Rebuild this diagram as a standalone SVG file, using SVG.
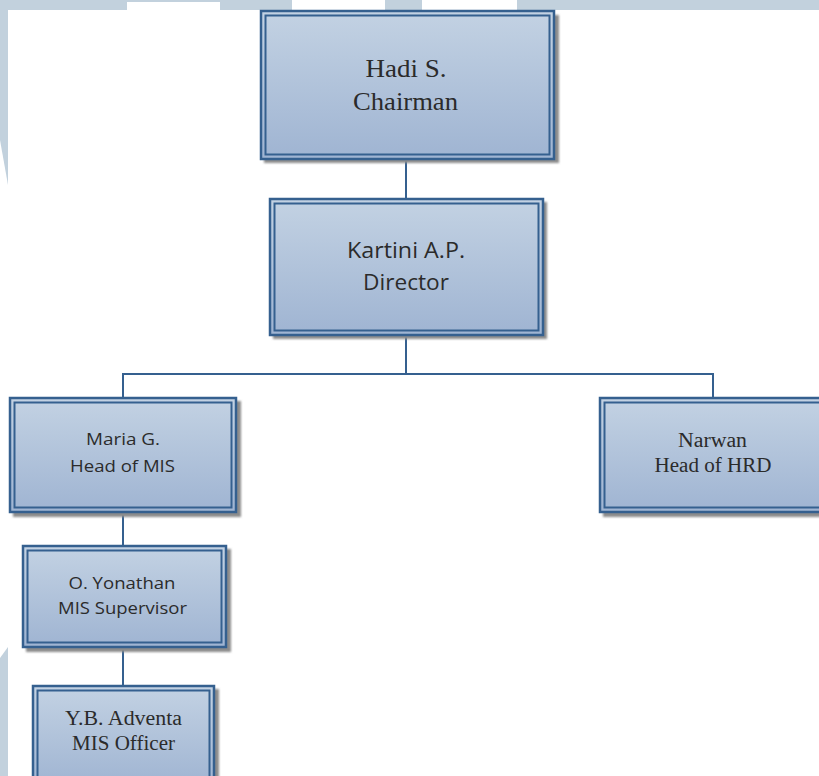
<svg xmlns="http://www.w3.org/2000/svg" width="819" height="776" viewBox="0 0 819 776">
<style>
.bg{fill:#c2d1dd}
.outer{stroke:#35608f;stroke-width:2.5;fill:url(#g)}
.inner{stroke:#35608f;stroke-width:2;fill:none}
.shadow{fill:#8c8c8c;filter:url(#blur)}
.conn{stroke:#35608f;stroke-width:2;fill:none}
.serif{font-family:"Liberation Serif","Times New Roman",serif;fill:#2b2b2b;text-anchor:middle}
.sans{font-family:"Open Sans","Liberation Sans",sans-serif;fill:#2b2b2b;text-anchor:middle}
</style>
<defs>
<linearGradient id="g" x1="0" y1="0" x2="0" y2="1">
<stop offset="0" stop-color="#c3d2e3"/>
<stop offset="1" stop-color="#9fb4d2"/>
</linearGradient>
<filter id="blur" x="-10%" y="-10%" width="120%" height="120%"><feGaussianBlur stdDeviation="1"/></filter>
</defs>
<rect width="819" height="776" fill="#ffffff"/>
<g id="background">
<rect class="bg" x="0" y="0" width="819" height="10"/>
<rect x="127" y="2" width="93" height="8" fill="#ffffff"/>
<rect x="292" y="0" width="93" height="10" fill="#ffffff"/>
<rect x="422" y="0" width="95" height="10" fill="#ffffff"/>
<polygon class="bg" points="0,0 8,0 8,185 0,140"/>
<polygon class="bg" points="0,658 8,647 8,776 0,776"/>
</g>
<g id="connectors">
<line class="conn" x1="406" y1="160" x2="406" y2="198"/>
<polyline class="conn" points="406,336 406,374"/>
<polyline class="conn" points="123,397 123,374 713,374 713,397"/>
<line class="conn" x1="123" y1="513" x2="123" y2="545"/>
<line class="conn" x1="123" y1="648" x2="123" y2="685"/>
</g>
<g id="chairman">
<rect class="shadow" x="264" y="15" width="295" height="148"/>
<rect class="outer" x="261" y="11" width="293" height="148"/>
<rect class="inner" x="265.5" y="15.5" width="284" height="139"/>
<text class="serif" font-size="25" x="406" y="77" textLength="81" lengthAdjust="spacingAndGlyphs">Hadi S.</text>
<text class="serif" font-size="25" x="405.5" y="110" textLength="105" lengthAdjust="spacingAndGlyphs">Chairman</text>
</g>
<g id="director">
<rect class="shadow" x="273" y="202" width="274" height="137"/>
<rect class="outer" x="270" y="199" width="273" height="136"/>
<rect class="inner" x="274.5" y="203.5" width="264" height="127"/>
<text class="sans" font-size="21" x="406" y="258" textLength="118" lengthAdjust="spacingAndGlyphs">Kartini A.P.</text>
<text class="sans" font-size="21" x="406" y="290" textLength="86" lengthAdjust="spacingAndGlyphs">Director</text>
</g>
<g id="head-mis">
<rect class="shadow" x="13" y="401" width="228" height="116"/>
<rect class="outer" x="10" y="398" width="226" height="114"/>
<rect class="inner" x="14.5" y="402.5" width="217" height="105"/>
<text class="sans" font-size="17" x="123" y="445" textLength="74" lengthAdjust="spacingAndGlyphs">Maria G.</text>
<text class="sans" font-size="17" x="122.5" y="472" textLength="105" lengthAdjust="spacingAndGlyphs">Head of MIS</text>
</g>
<g id="head-hrd">
<rect class="shadow" x="603" y="401" width="228" height="116"/>
<rect class="outer" x="600" y="398" width="226" height="114"/>
<rect class="inner" x="604.5" y="402.5" width="217" height="105"/>
<text class="serif" font-size="20" x="712.5" y="447" textLength="69" lengthAdjust="spacingAndGlyphs">Narwan</text>
<text class="serif" font-size="20" x="713" y="472" textLength="117" lengthAdjust="spacingAndGlyphs">Head of HRD</text>
</g>
<g id="mis-supervisor">
<rect class="shadow" x="26" y="549" width="205" height="103"/>
<rect class="outer" x="23" y="546" width="203" height="101"/>
<rect class="inner" x="27.5" y="550.5" width="194" height="92"/>
<text class="sans" font-size="17" x="122" y="589" textLength="107" lengthAdjust="spacingAndGlyphs">O. Yonathan</text>
<text class="sans" font-size="17" x="122.5" y="614" textLength="129" lengthAdjust="spacingAndGlyphs">MIS Supervisor</text>
</g>
<g id="mis-officer">
<rect class="shadow" x="36" y="689" width="183" height="103"/>
<rect class="outer" x="33" y="686" width="181" height="101"/>
<rect class="inner" x="37.5" y="690.5" width="172" height="92"/>
<text class="serif" font-size="20" x="123.5" y="725" textLength="117" lengthAdjust="spacingAndGlyphs">Y.B. Adventa</text>
<text class="serif" font-size="20" x="123.5" y="750" textLength="103" lengthAdjust="spacingAndGlyphs">MIS Officer</text>
</g>
</svg>
